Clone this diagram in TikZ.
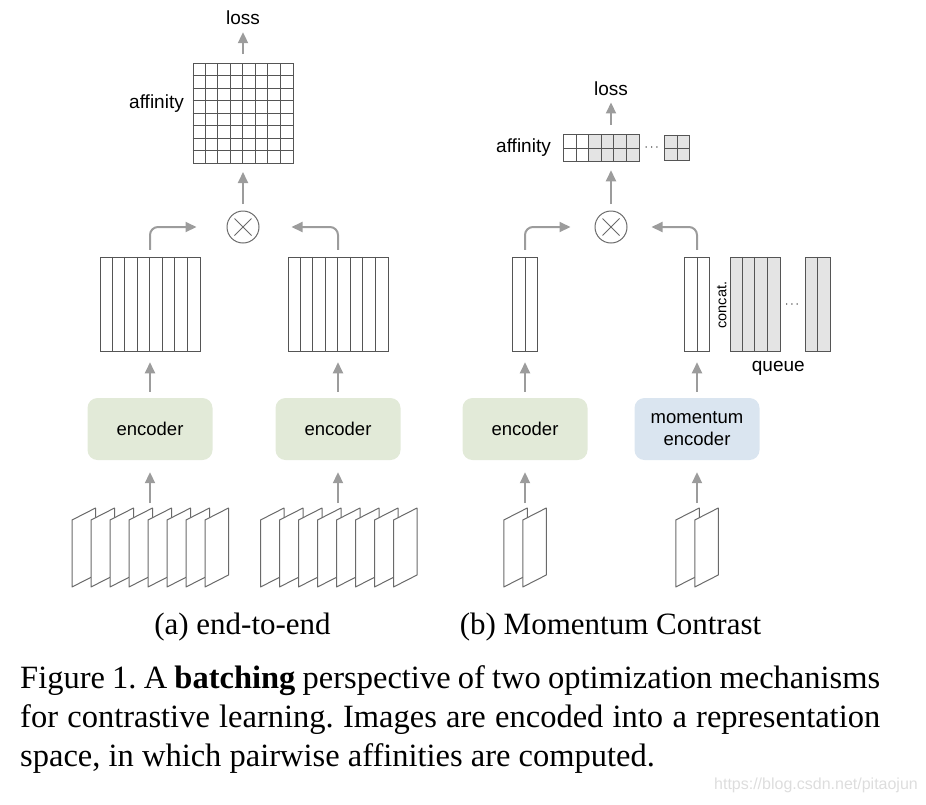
\documentclass[tikz,border=0pt]{standalone}
\usepackage{fontspec}
\setmainfont{Liberation Serif}
\setsansfont{Liberation Sans}
\usepackage{tikz}
\usetikzlibrary{arrows.meta, positioning}
\frenchspacing
\definecolor{encgreen}{HTML}{E2EAD8}
\definecolor{encblue}{HTML}{DAE5F0}
\definecolor{cellgray}{HTML}{E4E4E4}
\definecolor{edgegray}{HTML}{555555}
\definecolor{sheetgray}{HTML}{6A6A6A}
\definecolor{flowgray}{HTML}{9C9C9C}
\definecolor{markgray}{HTML}{DDDDDD}
\tikzset{%
	sans/.style={
		font=\sffamily\fontsize{19}{22}\selectfont,
		inner sep=0pt
	},
	enc box/.style={
		rectangle,
		rounded corners=10pt,
		fill=encgreen,
		minimum width=125pt,
		minimum height=62pt,
		align=center,
		font=\sffamily\fontsize{18.5}{22}\selectfont
	},
	slot/.style={
		rectangle,
		draw=edgegray,
		line width=1pt,
		inner sep=0pt,
		minimum height=94.5pt
	},
	edge/.style={draw=edgegray, line width=1pt},
	sheet/.style={draw=sheetgray, fill=white, line width=1pt, line join=round},
	flow/.style={
		draw=flowgray,
		line width=2pt,
		-{Triangle[length=11pt, width=10pt]},
		shorten <=6pt,
		shorten >=10pt
	},
	mult/.style={
		circle,
		draw=sheetgray,
		line width=1pt,
		minimum size=32pt,
		inner sep=0pt
	},
	dots/.style={font=\fontsize{12}{12}\selectfont, inner sep=0pt},
	caption/.style={font=\fontsize{32.5}{39}\selectfont, inner sep=0pt}
}

\begin{document}
\begin{tikzpicture}[x=1pt, y=-1pt]
	\useasboundingbox (0,0) rectangle (926,804);

	% (a) end-to-end
	\node[slot, minimum width=100pt, minimum height=100pt] (affa) at (243,113.5) {};
	\foreach \i in {1,...,7} {
		\draw[edge] ([xshift=\i*12.5pt]affa.north west) -- ([xshift=\i*12.5pt]affa.south west);
		\draw[edge] ([yshift=-\i*12.5pt]affa.north west) -- ([yshift=-\i*12.5pt]affa.north east);
	}
	\node[sans, anchor=east] (affinitya) at (184,104) {affinity};
	\node[sans] (lossa) at (243,18) {loss};
	\draw[flow, shorten <=9pt, shorten >=7pt] (affa) -- (lossa);

	\node[mult] (mula) at (243,227) {};
	\draw[sheetgray, line width=1pt] (mula.center) +(-8.5,-8.5) -- +(8.5,8.5)
		(mula.center) +(-8.5,8.5) -- +(8.5,-8.5);
	\draw[flow, shorten <=6.5pt, shorten >=8pt] (mula) -- (affa);

	\node[slot, minimum width=100pt] (fa1) at (150,304.5) {};
	\node[slot, minimum width=100pt] (fa2) at (338,304.5) {};
	\foreach \b in {fa1, fa2}
		\foreach \i in {1,...,7}
			\draw[edge] ([xshift=\i*12.5pt]\b.north west) -- ([xshift=\i*12.5pt]\b.south west);
	\draw[flow, rounded corners=8pt, shorten <=7pt, shorten >=30pt] (fa1.north) |- (mula.west);
	\draw[flow, rounded corners=8pt, shorten <=7pt, shorten >=32pt] (fa2.north) |- (mula.east);

	\node[enc box] (enca1) at (150,429) {encoder};
	\node[enc box] (enca2) at (338,429) {encoder};
	\draw[flow] (enca1) -- (fa1);
	\draw[flow] (enca2) -- (fa2);

	% image batches
	\foreach \x/\n in {72/7, 260.5/7, 503.75/1, 675.75/1}
		\foreach \k in {0,...,\n}
			\draw[sheet] ({\x+19*\k},587) -- ({\x+19*\k},520) -- ({\x+23.5+19*\k},508)
				-- ({\x+23.5+19*\k},575) -- cycle;
	\coordinate (imga1) at (150,508);
	\coordinate (imga2) at (338,508);
	\draw[flow, shorten <=5pt, shorten >=12pt] (imga1) -- (enca1);
	\draw[flow, shorten <=5pt, shorten >=12pt] (imga2) -- (enca2);

	% (b) Momentum Contrast
	\node[slot, draw=none, minimum width=75pt, minimum height=25.5pt] (affb) at (601.7,148) {};
	\fill[cellgray] ([xshift=25pt]affb.north west) rectangle (affb.south east);
	\draw[edge] (affb.west) -- (affb.east);
	\foreach \i in {1,...,5}
		\draw[edge] ([xshift=\i*12.5pt]affb.north west) -- ([xshift=\i*12.5pt]affb.south west);
	\draw[edge] (affb.north west) rectangle (affb.south east);
	\node[dots] (dotsb) at (651.7,148) {$\cdots$};
	\node[slot, fill=cellgray, minimum width=25pt, minimum height=25.5pt] (affc) at (677,148) {};
	\draw[edge] (affc.west) -- (affc.east);
	\draw[edge] (affc.north) -- (affc.south);
	\node[sans, anchor=east] (affinityb) at (551,147.5) {affinity};
	\node[sans] (lossb) at (611,88.3) {loss};
	\draw[flow, shorten <=10pt, shorten >=7pt] (lossb |- affb.north) -- (lossb);

	\node[mult] (mulb) at (611,227) {};
	\draw[sheetgray, line width=1pt] (mulb.center) +(-8.5,-8.5) -- +(8.5,8.5)
		(mulb.center) +(-8.5,8.5) -- +(8.5,-8.5);
	\draw[flow, shorten <=6.5pt, shorten >=9pt] (mulb) -- (mulb |- affb.south);

	\node[slot, minimum width=25pt] (fb1) at (525,304.5) {};
	\node[slot, minimum width=25pt] (fb2) at (697,304.5) {};
	\draw[edge] (fb1.north) -- (fb1.south);
	\draw[edge] (fb2.north) -- (fb2.south);
	\node[slot, fill=cellgray, minimum width=50pt] (qb1) at (755.3,304.5) {};
	\foreach \i in {1,2,3}
		\draw[edge] ([xshift=\i*12.5pt]qb1.north west) -- ([xshift=\i*12.5pt]qb1.south west);
	\node[dots] (dotsq) at (792,304.5) {$\cdots$};
	\node[slot, fill=cellgray, minimum width=25pt] (qb2) at (817.5,304.5) {};
	\draw[edge] (qb2.north) -- (qb2.south);
	\node[sans, font=\sffamily\fontsize{14.5}{16}\selectfont, rotate=90] (concat) at (721.7,305) {concat.};
	\node[sans] (queue) at (778.3,368.3) {queue};
	\draw[flow, rounded corners=8pt, shorten <=7pt, shorten >=24pt] (fb1.north) |- (mulb.west);
	\draw[flow, rounded corners=8pt, shorten <=7pt, shorten >=24pt] (fb2.north) |- (mulb.east);

	\node[enc box] (encb1) at (525,429) {encoder};
	\node[enc box, fill=encblue] (encb2) at (697,429) {momentum\\encoder};
	\draw[flow] (encb1) -- (fb1);
	\draw[flow] (encb2) -- (fb2);
	\coordinate (imgb1) at (525,508);
	\coordinate (imgb2) at (697,508);
	\draw[flow, shorten <=5pt, shorten >=12pt] (imgb1) -- (encb1);
	\draw[flow, shorten <=5pt, shorten >=12pt] (imgb2) -- (encb2);

	% captions
	\node[caption, font=\fontsize{31}{39}\selectfont, anchor=base] (capa) at (242.5,634) {(a) end-to-end};
	\node[caption, font=\fontsize{31}{39}\selectfont, anchor=base] (capb) at (610.5,634) {(b) Momentum Contrast};
	\node[caption, anchor=base west] (fig1) at (20,688)
		{\makebox[860pt][s]{Figure 1. A \textbf{batching} perspective of two optimization mechanisms}};
	\node[caption, anchor=base west] (fig2) at (20,727)
		{\makebox[860pt][s]{for contrastive learning. Images are encoded into a representation}};
	\node[caption, anchor=base west] (fig3) at (20,766)
		{space, in which pairwise affinities are computed.};
	\node[font=\sffamily\fontsize{16}{16}\selectfont, text=markgray, inner sep=0pt] (mark) at (816,785)
		{https://blog.csdn.net/pitaojun};
\end{tikzpicture}
\end{document}
